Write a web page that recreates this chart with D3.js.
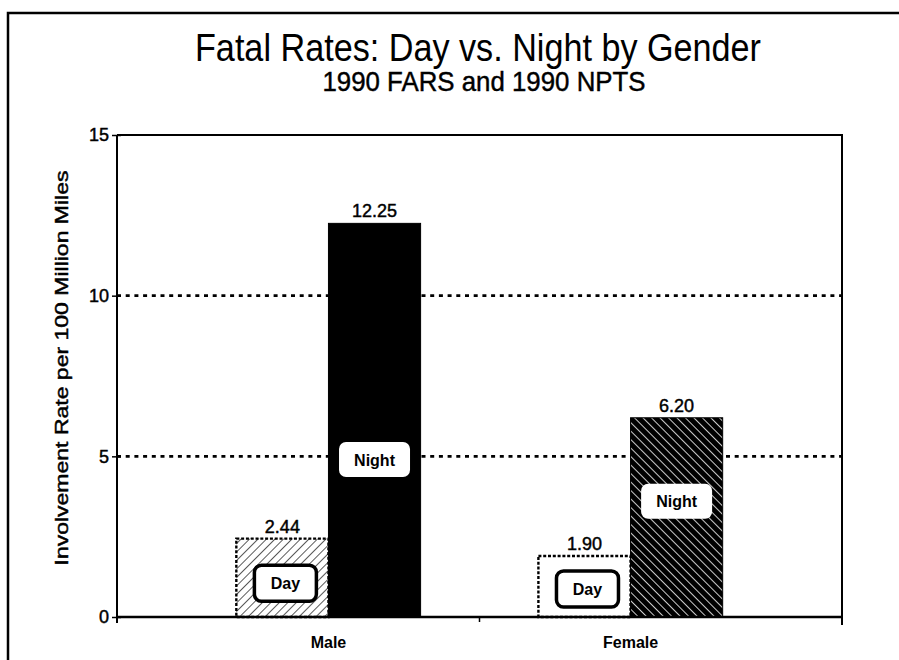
<!DOCTYPE html>
<html>
<head>
<meta charset="utf-8">
<script src="https://cdn.jsdelivr.net/npm/d3@7"></script>
<style>
  body { margin: 0; background: #fff; }
  text { font-family: "Liberation Sans", Arial, sans-serif; fill: #000; }
  .ink { stroke: #000; stroke-width: 0.45px; }
</style>
</head>
<body>
<div id="chart"></div>
<script>
// values
const categories = ["Male", "Female"];
const periods = ["Day", "Night"];
const dayRates = [2.44, 1.90];
const nightRates = [12.25, 6.20];
const yTicks = [0, 5, 10, 15];
const gridTicks = [5, 10];
// where the Day / Night tags sit, in rate units
const dayTagAt = [1.05, 0.87];
const nightTagAt = [4.9, 3.6];

const w = 899;
const h = 660;
const m = { top: 135, right: 57, bottom: 43, left: 117 };

const svg = d3.select("#chart").append("svg")
  .attr("width", w)
  .attr("height", h);

// patterns for the bar fills
const defs = svg.append("defs");

defs.append("pattern")
  .attr("id", "hatchDay")
  .attr("patternUnits", "userSpaceOnUse")
  .attr("width", 6).attr("height", 6)
  .attr("patternTransform", "rotate(45)")
  .append("line")
  .attr("x1", 0).attr("y1", 0).attr("x2", 0).attr("y2", 6)
  .attr("stroke", "#000").attr("stroke-width", 1.3);

const pn = defs.append("pattern")
  .attr("id", "hatchNight")
  .attr("patternUnits", "userSpaceOnUse")
  .attr("width", 6).attr("height", 6)
  .attr("patternTransform", "rotate(-45)");
pn.append("rect").attr("width", 6).attr("height", 6).attr("fill", "#000");
pn.append("line")
  .attr("x1", 0).attr("y1", 0).attr("x2", 0).attr("y2", 6)
  .attr("stroke", "#fff").attr("stroke-width", 1.6);

// outer frame of the page
svg.append("rect")
  .attr("x", 8).attr("y", 13)
  .attr("width", w + 20).attr("height", h + 20)
  .attr("fill", "none")
  .attr("stroke", "#000")
  .attr("stroke-width", 2.5);

svg.append("text")
  .attr("x", 478).attr("y", 61)
  .attr("text-anchor", "middle")
  .attr("font-size", 38)
  .attr("textLength", 566)
  .attr("lengthAdjust", "spacingAndGlyphs")
  .text("Fatal Rates:  Day vs. Night by Gender");

svg.append("text")
  .attr("class", "ink")
  .attr("x", 484).attr("y", 91)
  .attr("text-anchor", "middle")
  .attr("font-size", 28)
  .attr("textLength", 323)
  .attr("lengthAdjust", "spacingAndGlyphs")
  .text("1990 FARS and 1990 NPTS");

const y = d3.scaleLinear()
  .domain([0, 15])
  .range([h - m.bottom, m.top]);

const x0 = d3.scaleBand()
  .domain(categories)
  .range([m.left, w - m.right])
  .paddingInner(0.39)
  .paddingOuter(0.395);

const x1 = d3.scaleBand()
  .domain(periods)
  .range([0, x0.bandwidth()]);

const fmt = d3.format(".2f");

// dotted grid
svg.append("g")
  .selectAll("line")
  .data(gridTicks)
  .enter()
  .append("line")
  .attr("x1", m.left).attr("x2", w - m.right)
  .attr("y1", (d) => y(d)).attr("y2", (d) => y(d))
  .attr("stroke", "#000")
  .attr("stroke-width", 2.6)
  .attr("stroke-dasharray", "4,4.7");

// plot frame (top and right)
svg.append("path")
  .attr("d", `M${m.left},${y(15)}H${w - m.right}V${y(0) + 8}`)
  .attr("fill", "none")
  .attr("stroke", "#000")
  .attr("stroke-width", 2);

const rows = categories.map((c, i) => [
  { cat: c, period: "Day", value: dayRates[i], tag: dayTagAt[i] },
  { cat: c, period: "Night", value: nightRates[i], tag: nightTagAt[i] }
]);

const groups = svg.append("g")
  .selectAll("g")
  .data(rows)
  .enter()
  .append("g")
  .attr("transform", (d, i) => `translate(${x0(categories[i])},0)`);

const bars = groups.selectAll("g")
  .data((d) => d)
  .enter()
  .append("g");

bars.append("rect")
  .attr("x", (d) => x1(d.period))
  .attr("y", (d) => y(d.value))
  .attr("width", x1.bandwidth())
  .attr("height", (d) => y(0) - y(d.value))
  .attr("fill", (d) => {
    if (d.period === "Night") return d.cat === "Male" ? "#000" : "url(#hatchNight)";
    return d.cat === "Male" ? "url(#hatchDay)" : "#fff";
  })
  .attr("stroke", "#000")
  .attr("stroke-width", (d) => (d.period === "Day" ? 2.4 : 1))
  .attr("stroke-dasharray", (d) => (d.period === "Day" ? "3,1.8" : null));

bars.append("text")
  .attr("class", "ink")
  .attr("x", (d) => x1(d.period) + x1.bandwidth() / 2)
  .attr("y", (d) => y(d.value) - 6)
  .attr("text-anchor", "middle")
  .attr("font-size", 18)
  .text((d) => fmt(d.value));

// little tags inside the bars
const tagW = { Day: 62, Night: 71 };
const tagH = { Day: 36, Night: 35 };

bars.append("rect")
  .attr("x", (d) => x1(d.period) + x1.bandwidth() / 2 - tagW[d.period] / 2 + (d.period === "Day" ? 3 : 0))
  .attr("y", (d) => y(d.tag) - tagH[d.period] / 2)
  .attr("width", (d) => tagW[d.period])
  .attr("height", (d) => tagH[d.period])
  .attr("rx", 7)
  .attr("fill", "#fff")
  .attr("stroke", (d) => (d.period === "Day" ? "#000" : "none"))
  .attr("stroke-width", 3.5);

bars.append("text")
  .attr("x", (d) => x1(d.period) + x1.bandwidth() / 2 + (d.period === "Day" ? 3 : 0))
  .attr("y", (d) => y(d.tag) + 6)
  .attr("text-anchor", "middle")
  .attr("font-size", 16)
  .attr("font-weight", "bold")
  .text((d) => d.period);

// axes
const yAxis = svg.append("g")
  .attr("transform", `translate(${m.left},0)`)
  .call(d3.axisLeft(y).tickValues(yTicks).tickSize(5).tickPadding(3));
yAxis.select(".domain").remove();
yAxis.selectAll(".tick line").attr("x2", -5).attr("x1", 4).attr("stroke-width", 1.5);
yAxis.selectAll(".tick text")
  .attr("class", "ink")
  .attr("font-size", 18)
  .style("font-family", "Liberation Sans, Arial, sans-serif");

svg.append("line")
  .attr("x1", m.left).attr("x2", m.left)
  .attr("y1", y(15)).attr("y2", y(0) + 6)
  .attr("stroke", "#000").attr("stroke-width", 2);

const xAxis = svg.append("g")
  .attr("transform", `translate(0,${y(0)})`)
  .call(d3.axisBottom(x0).tickSize(0).tickPadding(20));
xAxis.select(".domain")
  .attr("d", `M${m.left},0H${w - m.right}`)
  .attr("stroke-width", 2.5);
xAxis.selectAll(".tick text")
  .attr("font-size", 16)
  .attr("font-weight", "bold")
  .style("font-family", "Liberation Sans, Arial, sans-serif");

// divider tick between the two groups
svg.append("line")
  .attr("x1", (m.left + w - m.right) / 2).attr("x2", (m.left + w - m.right) / 2)
  .attr("y1", y(0)).attr("y2", y(0) + 5)
  .attr("stroke", "#000").attr("stroke-width", 1.5);

svg.append("text")
  .attr("class", "ink")
  .attr("transform", `translate(68,${(y(0) + y(15)) / 2 - 8}) rotate(-90)`)
  .attr("text-anchor", "middle")
  .attr("font-size", 18)
  .attr("textLength", 395)
  .attr("lengthAdjust", "spacingAndGlyphs")
  .text("Involvement Rate per 100 Million Miles");
</script>
</body>
</html>
